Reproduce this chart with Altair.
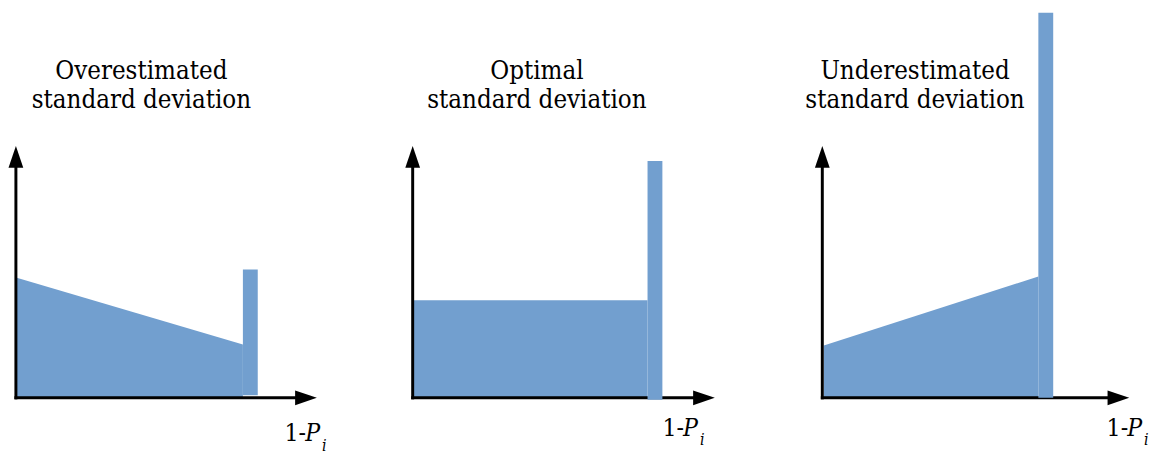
import altair as alt
import pandas as pd

# ---- data ----
titles_text = ["Overestimated\nstandard deviation", "Optimal\nstandard deviation",
               "Underestimated\nstandard deviation"]
area_x = [[0.0, 7.49], [0.0, 7.75], [0.05, 7.13]]
area_y = [[4.78, 2.12], [3.88, 3.88], [2.08, 4.82]]
bar_x0 = [7.49, 7.75, 7.13]
bar_x1 = [7.98, 8.24, 7.62]
bar_top = [5.10, 9.41, 15.30]
bar_bottom = [0.10, -0.08, 0.0]
x_arrow_tip = [9.93, 9.97, 10.13]
y_arrow_tip = 10.0
axis_label_main = "1-"
axis_label_var = "P"
axis_label_sub = "i"

# ---- layout ----
BLUE = "#729fcf"
W, H = 375, 441
x_domains = [[-0.163, 12.05], [-0.684, 11.53], [-1.629, 10.586]]
y_domain = [-1.92, 15.37]
title_x = [4.14, 4.10, 3.06]
title_y = 12.67
label_x = [8.86, 8.24, 9.38]
label_y = [-1.72, -1.50, -1.50]
FONT = "'DejaVu Serif Condensed', 'DejaVu Serif'"

UP = "M0,0L-0.68,2L0.68,2Z"
RIGHT = "M0,0L-2,-0.68L-2,0.68Z"


def panel(i):
    xs = alt.Scale(domain=x_domains[i], nice=False, zero=False)
    ys = alt.Scale(domain=y_domain, nice=False, zero=False)

    def X(f):
        return alt.X(f, type="quantitative", scale=xs, axis=None)

    def Y(f):
        return alt.Y(f, type="quantitative", scale=ys, axis=None)

    area_df = pd.DataFrame({"x": area_x[i], "y": area_y[i], "y0": [0.0, 0.0]})
    area = alt.Chart(area_df).mark_area(color=BLUE, opacity=1).encode(
        x=X("x"), y=Y("y"), y2="y0"
    )
    bar_df = pd.DataFrame({"x0": [bar_x0[i]], "x1": [bar_x1[i]], "y0": [bar_bottom[i]], "y1": [bar_top[i]]})
    bar = alt.Chart(bar_df).mark_rect(color=BLUE).encode(
        x=X("x0"), x2="x1", y=Y("y0"), y2="y1"
    )
    axes_df = pd.DataFrame({
        "x0": [0.0, 0.0], "x1": [0.0, x_arrow_tip[i] - 0.5],
        "y0": [0.0, 0.0], "y1": [y_arrow_tip - 0.6, 0.0],
    })
    axes = alt.Chart(axes_df).mark_rule(color="black", strokeWidth=3, strokeCap="square").encode(
        x=X("x0"), x2="x1", y=Y("y0"), y2="y1"
    )
    yhead = alt.Chart(pd.DataFrame({"x": [0.0], "y": [y_arrow_tip]})).mark_point(
        shape=UP, size=484, filled=True, color="black", opacity=1
    ).encode(x=X("x"), y=Y("y"))
    xhead = alt.Chart(pd.DataFrame({"x": [x_arrow_tip[i]], "y": [0.0]})).mark_point(
        shape=RIGHT, size=484, filled=True, color="black", opacity=1
    ).encode(x=X("x"), y=Y("y"))
    tdf = pd.DataFrame({"x": [title_x[i]], "y": [title_y], "t": [titles_text[i]]})
    titles = alt.Chart(tdf).mark_text(font=FONT, fontSize=26, color="black", align="center",
                                      baseline="alphabetic", lineBreak="\n", lineHeight=30
                                      ).encode(x=X("x"), y=Y("y"), text="t:N")
    ldf = pd.DataFrame({"x": [label_x[i]], "y": [label_y[i]], "a": [axis_label_main],
                        "b": [axis_label_var], "c": [axis_label_sub]})
    lbase = alt.Chart(ldf)
    l1 = lbase.mark_text(font=FONT, fontSize=25, color="black", align="left",
                         baseline="alphabetic").encode(x=X("x"), y=Y("y"), text="a:N")
    l2 = lbase.mark_text(font=FONT, fontSize=25, fontStyle="italic", color="black", align="left",
                         baseline="alphabetic", dx=21).encode(x=X("x"), y=Y("y"), text="b:N")
    l3 = lbase.mark_text(font=FONT, fontSize=16, fontStyle="italic", color="black", align="left",
                         baseline="alphabetic", dx=38, dy=10).encode(x=X("x"), y=Y("y"), text="c:N")
    return alt.layer(area, axes, bar, yhead, xhead, titles, l1, l2, l3).properties(width=W, height=H)


chart = alt.hconcat(panel(0), panel(1), panel(2), spacing=11, bounds="flush").configure_view(
    stroke=None).properties(padding=0)

chart.save("out.html", embed_options={"renderer": "svg", "actions": False})
